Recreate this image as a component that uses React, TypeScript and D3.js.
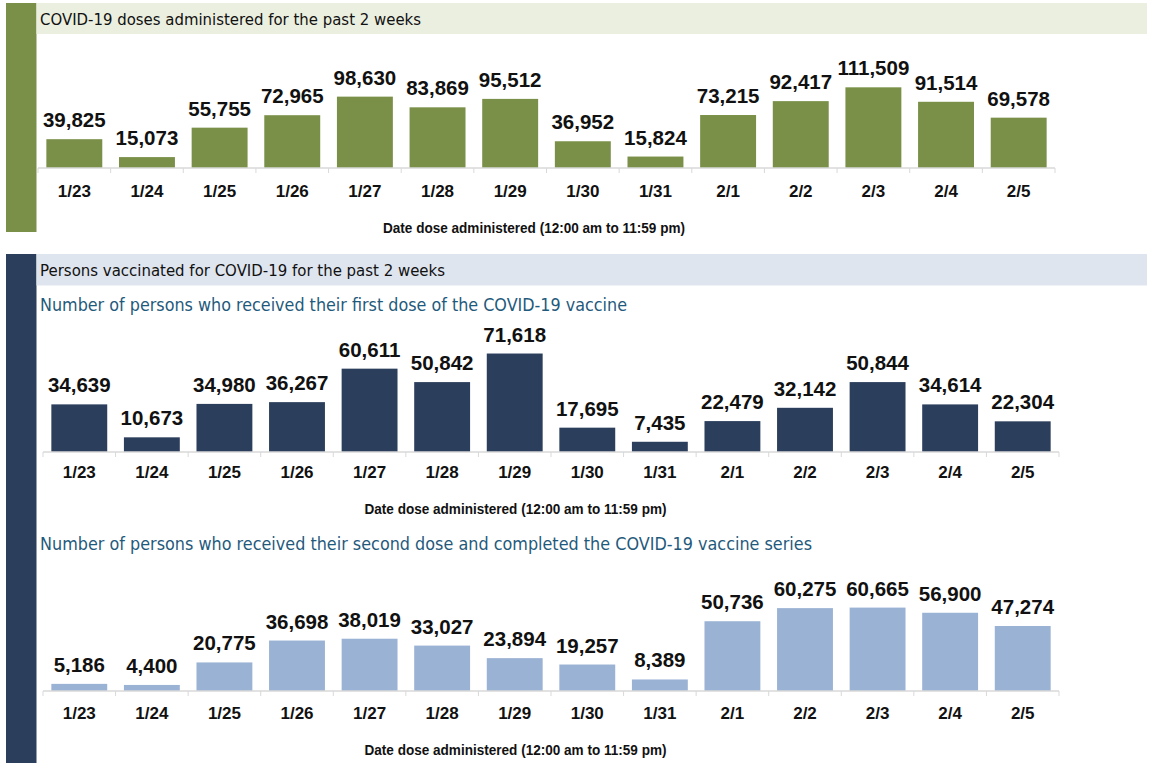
import React from "react";
import * as d3 from "d3";

const dates = ["1/23","1/24","1/25","1/26","1/27","1/28","1/29","1/30","1/31","2/1","2/2","2/3","2/4","2/5"];
const dosesAdministered = [39825,15073,55755,72965,98630,83869,95512,36952,15824,73215,92417,111509,91514,69578];
const firstDose = [34639,10673,34980,36267,60611,50842,71618,17695,7435,22479,32142,50844,34614,22304];
const secondDose = [5186,4400,20775,36698,38019,33027,23894,19257,8389,50736,60275,60665,56900,47274];

const title1 = "COVID-19 doses administered for the past 2 weeks";
const title2 = "Persons vaccinated for COVID-19 for the past 2 weeks";
const sub1 = "Number of persons who received their first dose of the COVID-19 vaccine";
const sub2 = "Number of persons who received their second dose and completed the COVID-19 vaccine series";
const axisTitle = "Date dose administered (12:00 am to 11:59 pm)";

const fmt = d3.format(",");
const BOLD = "'Liberation Sans', Arial, sans-serif";
const TITLE_FONT = "'DejaVu Sans', Verdana, sans-serif";

type ChartProps = {
  values: number[];
  color: string;
  x0: number; x1: number;
  base: number; top: number; maxV: number;
  tickDy: number; titleY: number; titleX: number;
};

function BarChart({ values, color, x0, x1, base, top, maxV, tickDy, titleY, titleX }: ChartProps) {
  const x = d3.scaleBand<string>().domain(dates).range([x0, x1]).paddingInner(0.23).paddingOuter(0.115);
  const y = d3.scaleLinear().domain([0, maxV]).range([base, top]);
  const step = x.step();
  const boundaries = d3.range(dates.length + 1).map(i => x0 + i * step);
  return (
    <g>
      {values.map((v, i) => (
        <rect key={i} x={x(dates[i])!} y={y(v)} width={x.bandwidth()} height={base - y(v)} fill={color} />
      ))}
      {values.map((v, i) => (
        <text key={"l" + i} x={x(dates[i])! + x.bandwidth() / 2} y={y(v) - 12} textAnchor="middle"
          fontFamily={BOLD} fontWeight="bold" fontSize={20.5} fill="#111">{fmt(v)}</text>
      ))}
      <line x1={x0} x2={x1} y1={base} y2={base} stroke="#d9d9d9" strokeWidth={1.5} />
      {boundaries.map((b, i) => (
        <line key={"t" + i} x1={b} x2={b} y1={base} y2={base + 5} stroke="#d9d9d9" strokeWidth={1} />
      ))}
      {dates.map((d, i) => (
        <text key={"d" + i} x={x(d)! + x.bandwidth() / 2} y={base + tickDy} textAnchor="middle"
          fontFamily={BOLD} fontWeight="bold" fontSize={17} fill="#111">{d}</text>
      ))}
      <text x={titleX} y={titleY} textAnchor="middle" fontFamily={BOLD} fontWeight="bold" fontSize={15.5}
        textLength={302} lengthAdjust="spacingAndGlyphs" fill="#111">{axisTitle}</text>
    </g>
  );
}

export default function App() {
  return (
    <svg width={1155} height={768} style={{ position: "absolute", left: 0, top: 0, background: "#fff" }}>
      <rect x={0} y={0} width={1155} height={768} fill="#fff" />
      {/* Panel 1 */}
      <rect x={6} y={3} width={30.5} height={229} fill="#7a9048" />
      <rect x={36.5} y={3} width={1110.5} height={31} fill="#ebefe0" />
      <text x={40} y={25} fontFamily={TITLE_FONT} fontSize={15.5} textLength={381} lengthAdjust="spacingAndGlyphs" fill="#111">{title1}</text>
      <BarChart values={dosesAdministered} color="#7a9048" x0={38} x1={1055} base={168} top={66.7} maxV={140000}
        tickDy={29} titleY={233} titleX={534} />
      {/* Panel 2 */}
      <rect x={6} y={254} width={30.5} height={509} fill="#2b3e5c" />
      <rect x={36.5} y={254} width={1110.5} height={31.5} fill="#dfe5ee" />
      <text x={40} y={276} fontFamily={TITLE_FONT} fontSize={15.5} textLength={405} lengthAdjust="spacingAndGlyphs" fill="#111">{title2}</text>
      <text x={40} y={311} fontFamily={TITLE_FONT} fontSize={17} textLength={587} lengthAdjust="spacingAndGlyphs" fill="#1f5a7c">{sub1}</text>
      <BarChart values={firstDose} color="#2b3e5c" x0={43} x1={1059} base={452} top={342} maxV={80000}
        tickDy={26} titleY={514} titleX={515.5} />
      <text x={40} y={550} fontFamily={TITLE_FONT} fontSize={17} textLength={772} lengthAdjust="spacingAndGlyphs" fill="#1f5a7c">{sub2}</text>
      <BarChart values={secondDose} color="#9ab2d4" x0={43} x1={1059} base={691} top={581} maxV={80000}
        tickDy={27.5} titleY={755} titleX={515.5} />
    </svg>
  );
}
